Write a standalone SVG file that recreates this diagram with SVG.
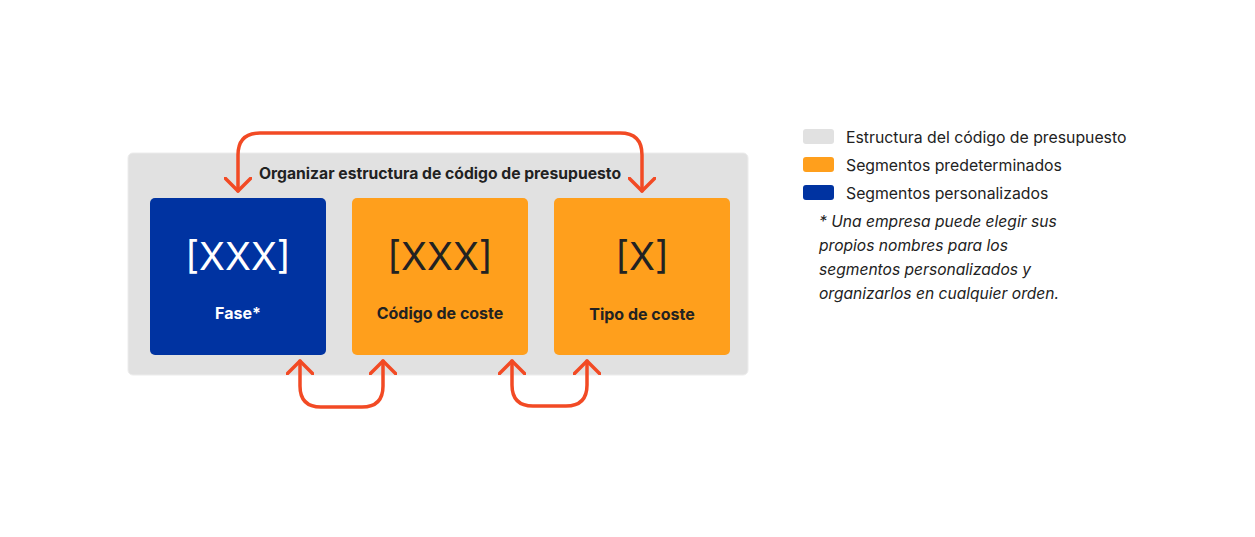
<svg xmlns="http://www.w3.org/2000/svg" width="1255" height="537" viewBox="0 0 1255 537">
<defs>
<style>
.t{font-family:Inter,"Noto Sans","Liberation Sans",sans-serif;fill:#222}
.title{font-size:15.7px;font-weight:700}
.big{font-size:38px;font-weight:400;text-anchor:middle}
.lbl{font-size:16px;font-weight:700;text-anchor:middle}
.leg{font-size:15.8px}
.note{font-size:15.6px;font-style:italic}
.conn{fill:none;stroke:#F24A24;stroke-width:3.5;stroke-linecap:round;stroke-linejoin:round}
</style>
<marker id="ah" viewBox="0 0 28 28" refX="14" refY="14" markerWidth="28" markerHeight="28" markerUnits="userSpaceOnUse" orient="auto-start-reverse">
<path d="M0,0 L14,14 L0,28" fill="none" stroke="#F24A24" stroke-width="3.5" stroke-linecap="round" stroke-linejoin="round"/>
</marker>
</defs>
<rect width="1255" height="537" fill="#fff"/>
<g id="container">
<rect x="128" y="153" width="620" height="222" rx="5" fill="#E1E1E1" stroke="#ECECEC" stroke-width="1"/>
<text class="t title" x="440" y="179" text-anchor="middle">Organizar estructura de código de presupuesto</text>
</g>
<g id="fase">
<rect x="150" y="198" width="176" height="157" rx="5" fill="#0033A1"/>
<text class="t big" x="238" y="270" style="fill:#fff">[XXX]</text>
<text class="t lbl" x="238" y="319" style="fill:#fff">Fase*</text>
</g>
<g id="codigo">
<rect x="352" y="198" width="176" height="157" rx="5" fill="#FF9F1C"/>
<text class="t big" x="440" y="270">[XXX]</text>
<text class="t lbl" x="440" y="319">Código de coste</text>
</g>
<g id="tipo">
<rect x="554" y="198" width="176" height="157" rx="5" fill="#FF9F1C"/>
<text class="t big" x="642" y="270">[X]</text>
<text class="t lbl" x="642" y="320">Tipo de coste</text>
</g>
<g id="connectors">
<path class="conn" d="M238,191 V155 Q238,133 260,133 H620 Q642,133 642,155 V191" marker-start="url(#ah)" marker-end="url(#ah)"/>
<path class="conn" d="M300,361 V386 Q300,407 321,407 H362 Q383,407 383,386 V361" marker-start="url(#ah)" marker-end="url(#ah)"/>
<path class="conn" d="M512,361 V385 Q512,406 533,406 H566 Q587,406 587,385 V361" marker-start="url(#ah)" marker-end="url(#ah)"/>
</g>
<g id="legend">
<rect x="803" y="129" width="31" height="15" rx="3" fill="#E1E1E1"/>
<text class="t leg" x="846" y="143">Estructura del código de presupuesto</text>
<rect x="803" y="157" width="31" height="15" rx="3" fill="#FF9F1C"/>
<text class="t leg" x="846" y="171">Segmentos predeterminados</text>
<rect x="803" y="185" width="31" height="15" rx="3" fill="#0033A1"/>
<text class="t leg" x="846" y="199">Segmentos personalizados</text>
<text class="t note" x="819" y="227">* Una empresa puede elegir sus</text>
<text class="t note" x="819" y="251">propios nombres para los</text>
<text class="t note" x="819" y="275">segmentos personalizados y</text>
<text class="t note" x="819" y="299">organizarlos en cualquier orden.</text>
</g>
</svg>
